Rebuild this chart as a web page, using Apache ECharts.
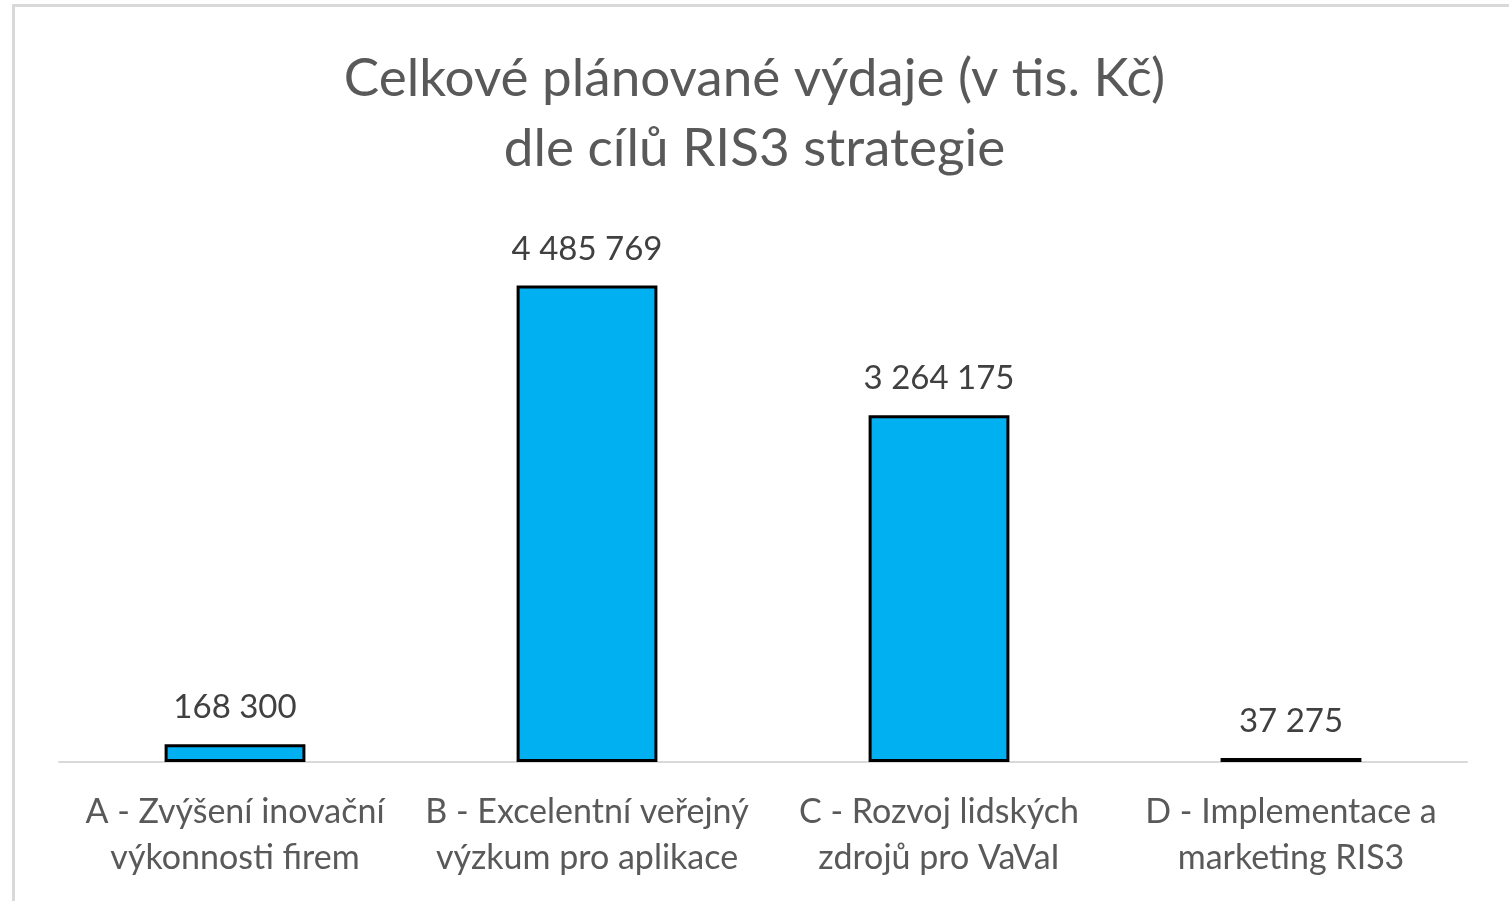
<!DOCTYPE html>
<html>
<head>
<meta charset="utf-8">
<script src="https://cdn.jsdelivr.net/npm/echarts@6/dist/echarts.min.js"></script>
<style>
  html, body { margin: 0; padding: 0; background: #fff; overflow: hidden; }
  #frame { position: absolute; left: 12px; top: 4px; width: 1520px; height: 920px; border: 3px solid #d9d9d9; box-sizing: border-box; }
  #main { position: absolute; left: 0; top: 0; width: 1509px; height: 901px; }
</style>
</head>
<body>
<div id="frame"></div>
<div id="main"></div>
<script>
// kategorie (cíle RIS3)
var categories = [
    'A - Zvýšení inovační\nvýkonnosti firem',
    'B - Excelentní veřejný\nvýzkum pro aplikace',
    'C - Rozvoj lidských\nzdrojů pro VaVaI',
    'D - Implementace a\nmarketing RIS3'
];
// plánované výdaje v tis. Kč
var values = [168300, 4485769, 3264175, 37275];

var titleText = 'Celkové plánované výdaje (v tis. Kč)\ndle cílů RIS3 strategie';

function fmt(v) {
    return String(v).replace(/\B(?=(\d{3})+(?!\d))/g, ' ');
}

var myChart = echarts.init(document.getElementById('main'));
var option = {
    textStyle: {
        fontFamily: 'Lato'
    },
    title: {
        text: titleText,
        left: 'center',
        top: 39,
        textStyle: {
            fontSize: 53,
            fontWeight: 'normal',
            color: '#595959',
            lineHeight: 70
        }
    },
    grid: {
        left: 59,
        right: 42,
        top: 231,
        bottom: 139,
        containLabel: false
    },
    xAxis: {
        type: 'category',
        data: categories,
        axisTick: { show: false },
        axisLine: {
            lineStyle: { color: '#d9d9d9', width: 2 }
        },
        axisLabel: {
            color: '#595959',
            fontSize: 34,
            lineHeight: 46,
            margin: 27,
            interval: 0
        }
    },
    yAxis: {
        type: 'value',
        min: 0,
        max: 5000000,
        show: false,
        splitLine: { show: false }
    },
    series: [{
        type: 'bar',
        data: values,
        barWidth: '40%',
        itemStyle: {
            color: '#00b0f0',
            borderColor: '#000',
            borderWidth: 3
        },
        label: {
            show: true,
            position: 'top',
            distance: 20,
            fontSize: 33,
            color: '#404040',
            formatter: function (p) { return fmt(p.value); }
        }
    }]
};
myChart.setOption(option);
</script>
</body>
</html>
